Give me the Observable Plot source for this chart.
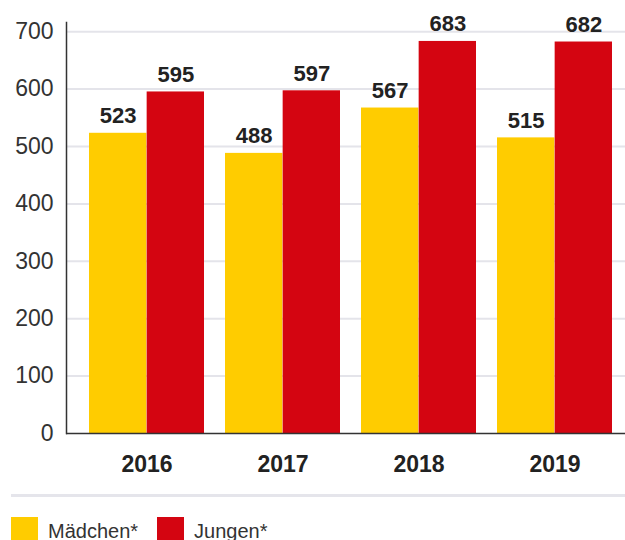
<!DOCTYPE html>
<html>
<head>
<meta charset="utf-8">
<script src="https://cdn.jsdelivr.net/npm/d3@7"></script>
<script src="https://cdn.jsdelivr.net/npm/@observablehq/plot@0.6"></script>
<style>
  html, body { margin: 0; padding: 0; background: #fff; }
  body { width: 625px; font-family: "Liberation Sans", Arial, sans-serif; }
  #chart svg { display: block; }
  .sep { margin: 6px 0 0 11px; height: 0; border-top: 3px solid #e5e5eb; }
  .legend { display: flex; align-items: center; margin-top: 20px; font-size: 20px; color: #333; line-height: 1; }
  .sw { width: 27px; height: 27px; flex: none; }
  .lbl { margin-left: 10px; }
</style>
</head>
<body>
<div id="chart"></div>
<div class="sep"></div>
<div class="legend" id="legend"></div>
<script>
const years = ["2016", "2017", "2018", "2019"];
const maedchen = [523, 488, 567, 515];
const jungen = [595, 597, 683, 682];
const yTicks = [0, 100, 200, 300, 400, 500, 600, 700];
const seriesNames = ["Mädchen*", "Jungen*"];
const seriesColors = ["#FFCC00", "#D40511"];

const girls = years.map((y, i) => ({year: y, value: maedchen[i]}));
const boys = years.map((y, i) => ({year: y, value: jungen[i]}));

const xRange = [67, 634];
const pad = 0.155;
const step = (xRange[1] - xRange[0]) / (years.length - pad + 2 * pad);
const bw = step * (1 - pad);

const chart = Plot.plot({
  width: 625,
  height: 488,
  marginTop: 22,
  marginLeft: 66,
  marginRight: 0,
  marginBottom: 55,
  style: {fontFamily: "'Liberation Sans', Arial, sans-serif", background: "#fff"},
  x: {domain: years, range: xRange, padding: pad, label: null},
  y: {domain: [0, 716], label: null},
  marks: [
    Plot.ruleY(yTicks.filter(d => d > 0), {stroke: "#e4e4ea", strokeWidth: 2}),
    Plot.barY(girls, {x: "year", y: "value", fill: seriesColors[0], insetLeft: 0, insetRight: bw / 2}),
    Plot.barY(boys, {x: "year", y: "value", fill: seriesColors[1], insetLeft: bw / 2, insetRight: 0}),
    Plot.ruleY([0], {stroke: "#333", strokeWidth: 1.5}),
    Plot.frame({anchor: "left", stroke: "#333", strokeWidth: 1.5}),
    Plot.axisY({ticks: yTicks, tickSize: 0, tickPadding: 13, fontSize: 23, fill: "#333", label: null}),
    Plot.axisX({tickSize: 0, tickPadding: 22, fontSize: 23, fontWeight: "bold", fill: "#222", label: null}),
    Plot.text(girls, {x: "year", y: "value", text: d => String(d.value), dx: -bw / 4, dy: -17, lineAnchor: "middle", fontSize: 22, fontWeight: "bold", fill: "#222"}),
    Plot.text(boys, {x: "year", y: "value", text: d => String(d.value), dx: bw / 4, dy: -17, lineAnchor: "middle", fontSize: 22, fontWeight: "bold", fill: "#222"})
  ]
});
document.getElementById("chart").appendChild(chart);

const legend = document.getElementById("legend");
seriesNames.forEach((name, i) => {
  const sw = document.createElement("span");
  sw.className = "sw";
  sw.style.background = seriesColors[i];
  sw.style.marginLeft = i === 0 ? "11px" : "19px";
  const lb = document.createElement("span");
  lb.className = "lbl";
  lb.textContent = name;
  legend.appendChild(sw);
  legend.appendChild(lb);
});
</script>
</body>
</html>
